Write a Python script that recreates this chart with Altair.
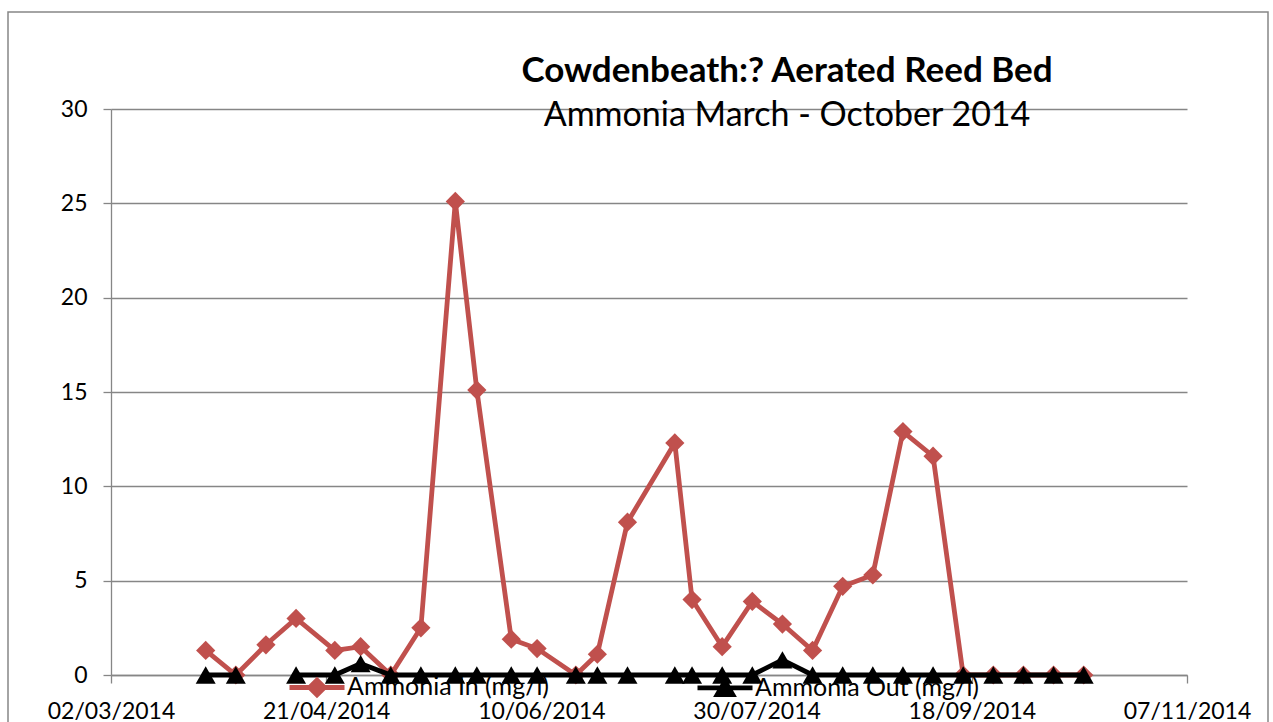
import altair as alt
import pandas as pd

# Sampling dates and ammonia readings (mg/l)
sample_dates = [
    "2014-03-24", "2014-03-31", "2014-04-07", "2014-04-14", "2014-04-23",
    "2014-04-29", "2014-05-06", "2014-05-13", "2014-05-21", "2014-05-26",
    "2014-06-03", "2014-06-09", "2014-06-18", "2014-06-23", "2014-06-30",
    "2014-07-11", "2014-07-15", "2014-07-22", "2014-07-29", "2014-08-05",
    "2014-08-12", "2014-08-19", "2014-08-26", "2014-09-02", "2014-09-09",
    "2014-09-16", "2014-09-23", "2014-09-30", "2014-10-07", "2014-10-14",
]
ammonia_in = [
    1.3, 0.0, 1.6, 3.0, 1.3, 1.5, 0.0, 2.5, 25.1, 15.1,
    1.9, 1.4, 0.0, 1.1, 8.1, 12.3, 4.0, 1.5, 3.9, 2.7,
    1.3, 4.7, 5.3, 12.9, 11.6, 0.0, 0.0, 0.0, 0.0, 0.0,
]
ammonia_out = [
    0.0, 0.0, None, 0.0, 0.0, 0.6, 0.0, 0.0, 0.0, 0.0,
    0.0, 0.0, 0.0, 0.0, 0.0, 0.0, 0.0, 0.0, 0.0, 0.8,
    0.0, 0.0, 0.0, 0.0, 0.0, 0.0, 0.0, 0.0, 0.0, 0.0,
]
series_names = ["Ammonia In (mg/l)", "Ammonia Out (mg/l)"]
series_colors = ["#C0504D", "#000000"]
x_tick_dates = ["2014-03-02", "2014-04-21", "2014-06-10", "2014-07-30", "2014-09-18", "2014-11-07"]
y_ticks = [0, 5, 10, 15, 20, 25, 30]

FONT = "Lato"
GREY = "#868686"

df = pd.DataFrame({
    "date": sample_dates * 2,
    "series": [series_names[0]] * len(sample_dates) + [series_names[1]] * len(sample_dates),
    "value": ammonia_in + ammonia_out,
})


def utc_day(s):
    y, m, d = (int(p) for p in s.split("-"))
    return alt.DateTime(year=y, month=m, date=d, utc=True)


x_enc = alt.X(
    "date:T",
    scale=alt.Scale(type="utc", domain=[utc_day(x_tick_dates[0]), utc_day(x_tick_dates[-1])], nice=False),
    axis=alt.Axis(
        title=None, values=[utc_day(s) for s in x_tick_dates], format="%d/%m/%Y",
        grid=False, domainColor=GREY, domainWidth=1.3, tickColor=GREY, tickWidth=1.3, tickSize=8,
        labelFont=FONT, labelFontSize=23, labelColor="black", labelPadding=17,
        labelOverlap=False, labelFlush=False, labelBound=False,
    ),
)
y_enc = alt.Y(
    "value:Q",
    scale=alt.Scale(domain=[0, 30], nice=False),
    axis=alt.Axis(
        title=None, values=y_ticks, grid=True, gridColor=GREY, gridWidth=1.3,
        domainColor=GREY, domainWidth=1.3, tickColor=GREY, tickWidth=1.3, tickSize=8,
        labelFont=FONT, labelFontSize=23, labelColor="black", labelPadding=16,
    ),
)

base = alt.Chart(df).encode(x=x_enc, y=y_enc)


def series_layers(name, color, shape, size):
    sub = base.transform_filter(alt.datum.series == name)
    line = sub.mark_line(color=color, strokeWidth=4.8, invalid="break-paths-show-domains")
    pts = sub.mark_point(filled=True, color=color, shape=shape, size=size, opacity=1)
    return [line, pts]


# Chart frame
frame = alt.Chart(pd.DataFrame({"frame": [0]})).mark_rect(
    filled=False, stroke=GREY, strokeWidth=1.5
).encode(x=alt.value(-103), x2=alt.value(1157), y=alt.value(-97), y2=alt.value(900))

# Legend symbols: a short line with the series marker in its middle
legend_paths = [
    "M-1,0L1,0M-0.27,0L0,-0.27L0.27,0L0,0.27Z",
    "M-1,0L1,0M-0.28,0.24L0.28,0.24L0,-0.24Z",
]
leg = alt.Legend(
    title=None, orient="none", legendX=176, legendY=548, direction="horizontal",
    symbolSize=3025, symbolStrokeWidth=4.8, labelFont=FONT, labelFontSize=25,
    labelColor="black", labelOffset=0, labelLimit=400, columnPadding=137, padding=0,
)
legend_layer = alt.Chart(df).transform_filter("false").mark_point(
    filled=False, opacity=1, strokeWidth=4.8
).encode(
    fill=alt.Fill("series:N", scale=alt.Scale(domain=series_names, range=series_colors), legend=leg),
    stroke=alt.Stroke("series:N", scale=alt.Scale(domain=series_names, range=series_colors), legend=leg),
    shape=alt.Shape("series:N", scale=alt.Scale(domain=series_names, range=legend_paths), legend=leg),
)

layers = (
    [frame]
    + series_layers(series_names[0], series_colors[0], "diamond", 370)
    + series_layers(series_names[1], series_colors[1], "triangle-up", 400)
    + [legend_layer]
)

chart = alt.layer(*layers).properties(
    width=1076,
    height=566,
    padding={"left": 111, "top": 109, "right": 86, "bottom": 47},
    autosize=alt.AutoSizeParams(type="none"),
    background="white",
    title=alt.TitleParams(
        text="Cowdenbeath:? Aerated Reed Bed",
        subtitle="Ammonia March - October 2014",
        font=FONT, fontSize=35, fontWeight="bold", color="black",
        subtitleFont=FONT, subtitleFontSize=34, subtitleFontWeight="normal",
        subtitleColor="black", subtitlePadding=10,
        anchor="middle", dx=138, offset=-122,
    ),
).configure_view(strokeWidth=0)

chart.save("out.html", embed_options={"renderer": "svg", "actions": False})
